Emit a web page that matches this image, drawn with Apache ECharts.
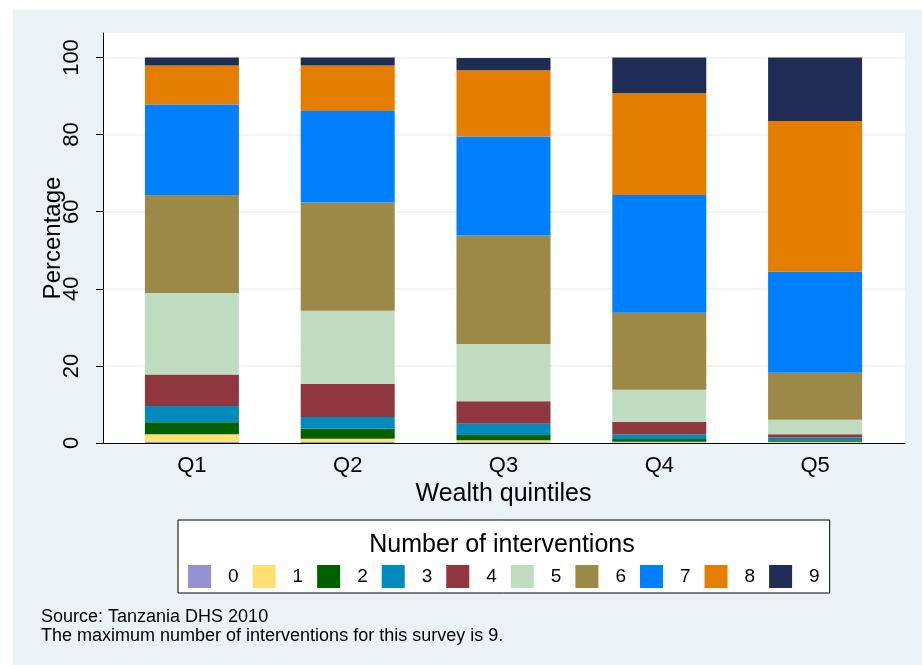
<!DOCTYPE html>
<html>
<head>
<meta charset="utf-8">
<script src="https://cdn.jsdelivr.net/npm/echarts@6/dist/echarts.min.js"></script>
<style>
  html, body { margin: 0; padding: 0; background: #ffffff; }
  #chart { width: 922px; height: 665px; }
</style>
</head>
<body>
<div id="chart"></div>
<script>
// Categories (wealth quintiles)
const quintiles = ['Q1', 'Q2', 'Q3', 'Q4', 'Q5'];
// Number of interventions (legend entries)
const interventions = ['0', '1', '2', '3', '4', '5', '6', '7', '8', '9'];
// Percentage share of each number of interventions, per quintile (order 0..9)
const q1 = [0.3, 2.0, 3.1, 4.2, 8.2, 21.1, 25.4, 23.5, 10.1, 2.1];
const q2 = [0.3, 0.8, 2.6, 3.05, 8.65, 18.9, 28.1, 23.7, 11.8, 2.1];
const q3 = [0.2, 0.5, 1.4, 2.9, 5.8, 14.9, 28.1, 25.7, 17.2, 3.2];
const q4 = [0.1, 0.2, 0.74, 1.26, 3.15, 8.35, 20.0, 30.5, 26.4, 9.3];
const q5 = [0.1, 0.2, 0.4, 0.7, 0.85, 3.8, 12.15, 26.2, 39.1, 16.5];
// Y axis ticks
const yTicks = [0, 20, 40, 60, 80, 100];
// Colours for 0..9
const colors = ['#9691d3', '#ffe072', '#006000', '#008bbc', '#8f363e',
                '#c0dcc0', '#9c8847', '#0080ff', '#e37e00', '#1f2d56'];

const byQuintile = [q1, q2, q3, q4, q5];

const series = interventions.map((name, i) => ({
  name: name,
  type: 'bar',
  stack: 'total',
  xAxisIndex: 2,
  yAxisIndex: 2,
  barWidth: 94,
  itemStyle: { color: colors[i] },
  emphasis: { disabled: true },
  data: byQuintile.map(q => q[i])
}));

const chart = echarts.init(document.getElementById('chart'), null, { renderer: 'canvas' });

const font = '"Liberation Sans", Arial, sans-serif';

chart.setOption({
  backgroundColor: '#ffffff',
  animation: false,
  textStyle: { fontFamily: font },
  graphic: [
    {
      type: 'rect',
      z: -10,
      silent: true,
      shape: { x: 13, y: 10, width: 909, height: 655 },
      style: { fill: '#eaf2f3' }
    },
    {
      type: 'text',
      z: 10,
      x: 502,
      y: 545,
      style: {
        text: 'Number of interventions',
        fontFamily: font,
        fontSize: 25,
        fill: '#000000',
        textAlign: 'center',
        textVerticalAlign: 'middle'
      }
    }
  ],
  title: {
    text: 'Source: Tanzania DHS 2010\nThe maximum number of interventions for this survey is 9.',
    left: 41,
    top: 608,
    padding: 0,
    textStyle: {
      fontFamily: font,
      fontSize: 18,
      fontWeight: 'normal',
      lineHeight: 19,
      color: '#000000'
    }
  },
  legend: {
    data: interventions,
    left: 178,
    top: 520,
    orient: 'horizontal',
    padding: [45, 10, 5, 10],
    backgroundColor: '#ffffff',
    borderColor: '#000000',
    borderWidth: 1,
    itemWidth: 23,
    itemHeight: 23,
    itemGap: 14,
    icon: 'rect',
    selectedMode: false,
    textStyle: {
      fontFamily: font,
      fontSize: 19,
      color: '#000000',
      padding: [0, 0, 0, 12]
    }
  },
  grid: [
    { left: 103, top: 33, width: 802, height: 410, show: true, backgroundColor: '#ffffff', borderWidth: 0 },
    { left: 103, top: 57.5, width: 802, height: 385.5, show: false },
    { left: 114, top: 57.5, width: 779, height: 385.5, show: false }
  ],
  xAxis: [
    {
      gridIndex: 0, type: 'value', min: 0, max: 1,
      axisLine: { show: true, lineStyle: { color: '#000000', width: 1 } },
      axisTick: { show: false }, axisLabel: { show: false }, splitLine: { show: false }
    },
    {
      gridIndex: 1, type: 'value', min: 0, max: 1, show: false
    },
    {
      gridIndex: 2, type: 'category', data: quintiles,
      axisLine: { show: false }, axisTick: { show: false },
      axisLabel: { fontFamily: font, fontSize: 22, color: '#000000', margin: 12 },
      name: 'Wealth quintiles', nameLocation: 'middle', nameGap: 38,
      nameTextStyle: { fontFamily: font, fontSize: 25, color: '#000000' }
    }
  ],
  yAxis: [
    {
      gridIndex: 0, type: 'value', min: 0, max: 1,
      axisLine: { show: true, lineStyle: { color: '#000000', width: 1 } },
      axisTick: { show: false }, axisLabel: { show: false }, splitLine: { show: false },
      name: 'Percentage', nameLocation: 'middle', nameGap: 38,
      nameTextStyle: { fontFamily: font, fontSize: 24, color: '#000000' }
    },
    {
      gridIndex: 1, type: 'value', min: yTicks[0], max: yTicks[yTicks.length - 1], interval: 20,
      axisLine: { show: false },
      axisTick: { show: true, length: 7, lineStyle: { color: '#000000', width: 1 } },
      axisLabel: { fontFamily: font, fontSize: 22, color: '#000000', rotate: 90, margin: 20 },
      splitLine: { show: true, showMinLine: false, lineStyle: { color: '#eaf2f3', width: 1.5 } }
    },
    {
      gridIndex: 2, type: 'value', min: 0, max: 100, show: false
    }
  ],
  series: series
});
</script>
</body>
</html>
